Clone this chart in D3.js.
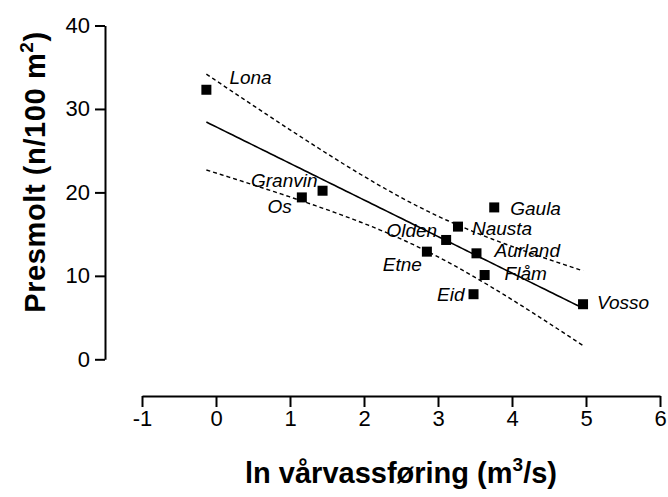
<!DOCTYPE html>
<html>
<head>
<meta charset="utf-8">
<script src="https://cdnjs.cloudflare.com/ajax/libs/d3/7.8.5/d3.min.js"></script>
<style>
  body { margin: 0; background: #fff; }
  svg { display: block; font-family: "Liberation Sans", Arial, sans-serif; }
</style>
</head>
<body>
<svg id="chart" width="668" height="497"></svg>
<script>
// rivers, ln spring discharge and presmolt density
const rivers   = ["Lona", "Os", "Granvin", "Etne", "Olden", "Nausta", "Eid", "Aurland", "Flåm", "Gaula", "Vosso"];
const lnFlow   = [-0.13, 1.16, 1.44, 2.85, 3.11, 3.27, 3.48, 3.52, 3.63, 3.76, 4.96];
const presmolt = [32.3, 19.4, 20.2, 12.9, 14.3, 15.9, 7.8, 12.7, 10.1, 18.2, 6.6];

const xTicks = [-1, 0, 1, 2, 3, 4, 5, 6];
const yTicks = [0, 10, 20, 30, 40];

// where each name sits relative to its square
const labelOffsets = {
  Lona:    { dx: 23,  dy: -6, anchor: "start" },
  Os:      { dx: -10, dy: 16, anchor: "end" },
  Granvin: { dx: -5,  dy: -4, anchor: "end" },
  Etne:    { dx: -5,  dy: 19, anchor: "end" },
  Olden:   { dx: -9,  dy: -3, anchor: "end" },
  Nausta:  { dx: 14,  dy: 8,  anchor: "start" },
  Eid:     { dx: -9,  dy: 7,  anchor: "end" },
  Aurland: { dx: 18,  dy: 4,  anchor: "start" },
  "Flåm":  { dx: 20,  dy: 5,  anchor: "start" },
  Gaula:   { dx: 16,  dy: 8,  anchor: "start" },
  Vosso:   { dx: 14,  dy: 5,  anchor: "start" }
};

const svg = d3.select("#chart");

const x = d3.scaleLinear().domain([-1, 6]).range([142, 660]);
const y = d3.scaleLinear().domain([0, 40]).range([359.3, 25.5]);

const points = rivers.map((r, i) => ({ name: r, x: lnFlow[i], y: presmolt[i] }));

// linear regression + 95% confidence band of the mean
const n = points.length;
const mx = d3.mean(points, d => d.x);
const my = d3.mean(points, d => d.y);
const sxx = d3.sum(points, d => (d.x - mx) ** 2);
const sxy = d3.sum(points, d => (d.x - mx) * (d.y - my));
const slope = sxy / sxx;
const icept = my - slope * mx;
const sse = d3.sum(points, d => (d.y - (icept + slope * d.x)) ** 2);
const s = Math.sqrt(sse / (n - 2));
const tCrit = 2.262; // t(0.975, df = 9)

const [xmin, xmax] = d3.extent(points, d => d.x);
const band = d3.range(0, 101).map(k => {
  const xv = xmin + (xmax - xmin) * k / 100;
  const fit = icept + slope * xv;
  const half = tCrit * s * Math.sqrt(1 / n + (xv - mx) ** 2 / sxx);
  return { x: xv, fit: fit, lo: fit - half, hi: fit + half };
});

const line = key => d3.line().x(d => x(d.x)).y(d => y(d[key]));

svg.append("path")
  .datum(band)
  .attr("fill", "none")
  .attr("stroke", "#000")
  .attr("stroke-width", 1.6)
  .attr("d", line("fit"));

["hi", "lo"].forEach(k => {
  svg.append("path")
    .datum(band)
    .attr("fill", "none")
    .attr("stroke", "#000")
    .attr("stroke-width", 1.4)
    .attr("stroke-dasharray", "4,3")
    .attr("d", line(k));
});

// axes
const yAxis = svg.append("g")
  .attr("transform", "translate(105,0)")
  .call(d3.axisLeft(y).tickValues(yTicks).tickSize(10).tickSizeOuter(0).tickPadding(5));

const xAxis = svg.append("g")
  .attr("transform", "translate(0,396)")
  .call(d3.axisBottom(x).tickValues(xTicks).tickSize(11).tickSizeOuter(0).tickPadding(3).tickFormat(d3.format("d")));

[yAxis, xAxis].forEach(g => {
  g.select(".domain").attr("stroke", "#000").attr("stroke-width", 2);
  g.selectAll(".tick line").attr("stroke", "#000").attr("stroke-width", 2);
  g.selectAll(".tick text")
    .attr("fill", "#000")
    .style("font-family", "'Liberation Sans', Arial, sans-serif")
    .style("font-size", "22px");
});
xAxis.selectAll(".tick text").text(d => d < 0 ? "-" + Math.abs(d) : d);

// points
svg.append("g")
  .selectAll("rect")
  .data(points)
  .join("rect")
  .attr("x", d => x(d.x) - 5)
  .attr("y", d => y(d.y) - 5)
  .attr("width", 10)
  .attr("height", 10)
  .attr("fill", "#000");

svg.append("g")
  .selectAll("text")
  .data(points)
  .join("text")
  .attr("x", d => x(d.x) + labelOffsets[d.name].dx)
  .attr("y", d => y(d.y) + labelOffsets[d.name].dy)
  .attr("text-anchor", d => labelOffsets[d.name].anchor)
  .attr("font-style", "italic")
  .attr("font-size", 19)
  .text(d => d.name);

// axis titles
const yTitle = svg.append("text")
  .attr("transform", "translate(45,172) rotate(-90)")
  .attr("text-anchor", "middle")
  .attr("font-weight", "bold")
  .attr("font-size", 29)
  .attr("letter-spacing", 0.6);
yTitle.append("tspan").text("Presmolt (n/100 m");
yTitle.append("tspan").attr("dy", -12).attr("font-size", 19).text("2");
yTitle.append("tspan").attr("dy", 12).text(")");

const xTitle = svg.append("text")
  .attr("x", 401)
  .attr("y", 483)
  .attr("text-anchor", "middle")
  .attr("font-weight", "bold")
  .attr("font-size", 29);
xTitle.append("tspan").text("ln vårvassføring (m");
xTitle.append("tspan").attr("dy", -12).attr("font-size", 19).text("3");
xTitle.append("tspan").attr("dy", 12).text("/s)");
</script>
</body>
</html>
